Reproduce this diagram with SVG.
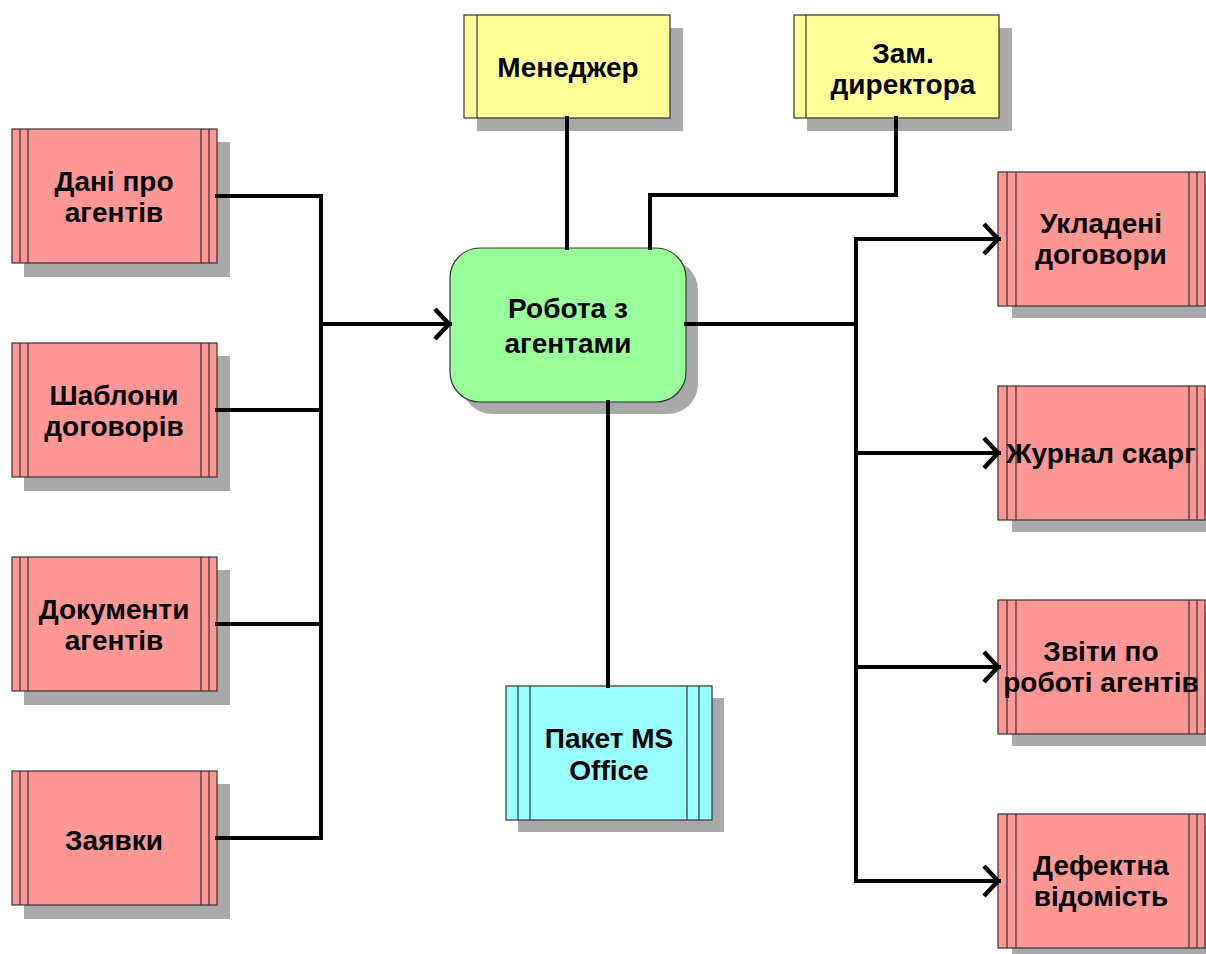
<svg xmlns="http://www.w3.org/2000/svg" width="1206" height="954" viewBox="0 0 1206 954">
<defs>
<style>
.sh{fill:#a9a9a9}
.pk{fill:#ff9797;stroke:#333;stroke-width:1.2}
.yl{fill:#ffff99;stroke:#333;stroke-width:1.2}
.gr{fill:#99ff99;stroke:#333;stroke-width:1.2}
.cy{fill:#99ffff;stroke:#333;stroke-width:1.2}
.in{stroke:#333;stroke-width:1.2;fill:none}
.t{font-family:"Liberation Sans",Arial,sans-serif;font-weight:bold;font-size:28px;fill:#000;text-anchor:middle}
.c{fill:none;stroke:#000;stroke-width:4;stroke-linejoin:miter;stroke-linecap:square}
</style>
<marker id="ar" markerUnits="userSpaceOnUse" viewBox="0 0 20 36" refX="18" refY="18" markerWidth="20" markerHeight="36" orient="auto">
<path d="M3,3 L17,18 L3,33" fill="none" stroke="#000" stroke-width="4.5"/>
</marker>
</defs>
<rect width="1206" height="954" fill="#fff"/>

<g id="n-dani">
<rect class="sh" x="24" y="142" width="206" height="135"/>
<rect class="pk" x="12" y="129" width="205" height="134"/>
<path class="in" d="M20,129V263M28,129V263M201,129V263M209,129V263"/>
<text class="t" x="114" y="191">Дані про</text>
<text class="t" x="114" y="222">агентів</text>
</g>
<g id="n-shablony">
<rect class="sh" x="24" y="356" width="206" height="135"/>
<rect class="pk" x="12" y="343" width="205" height="134"/>
<path class="in" d="M20,343V477M28,343V477M201,343V477M209,343V477"/>
<text class="t" x="114" y="405">Шаблони</text>
<text class="t" x="114" y="436">договорів</text>
</g>
<g id="n-dokumenty">
<rect class="sh" x="24" y="570" width="206" height="135"/>
<rect class="pk" x="12" y="557" width="205" height="134"/>
<path class="in" d="M20,557V691M28,557V691M201,557V691M209,557V691"/>
<text class="t" x="114" y="619">Документи</text>
<text class="t" x="114" y="650">агентів</text>
</g>
<g id="n-zaiavky">
<rect class="sh" x="24" y="784" width="206" height="135"/>
<rect class="pk" x="12" y="771" width="205" height="134"/>
<path class="in" d="M20,771V905M28,771V905M201,771V905M209,771V905"/>
<text class="t" x="114" y="850">Заявки</text>
</g>

<g id="n-menedzher">
<rect class="sh" x="477" y="28" width="206" height="103"/>
<rect class="yl" x="464" y="15" width="206" height="103"/>
<path class="in" d="M477,15V118"/>
<text class="t" x="568" y="77">Менеджер</text>
</g>
<g id="n-zam">
<rect class="sh" x="807" y="28" width="205" height="103"/>
<rect class="yl" x="794" y="15" width="205" height="103"/>
<path class="in" d="M806,15V118"/>
<text class="t" x="903" y="63">Зам.</text>
<text class="t" x="903" y="94">директора</text>
</g>

<g id="n-robota">
<rect class="sh" x="462" y="260" width="236" height="154" rx="30" ry="30"/>
<rect class="gr" x="450" y="248" width="236" height="154" rx="30" ry="30"/>
<text class="t" x="568" y="318">Робота з</text>
<text class="t" x="568" y="353">агентами</text>
</g>

<g id="n-office">
<rect class="sh" x="518" y="698" width="206" height="134"/>
<rect class="cy" x="506" y="686" width="206" height="134"/>
<path class="in" d="M518,686V820M530,686V820M687,686V820M699,686V820"/>
<text class="t" x="609" y="748">Пакет MS</text>
<text class="t" x="609" y="780">Office</text>
</g>

<g id="n-ukladeni">
<rect class="sh" x="1012" y="184" width="194" height="134"/>
<rect class="pk" x="998" y="172" width="207" height="134"/>
<path class="in" d="M1007,172V306M1016,172V306M1189,172V306M1197,172V306"/>
<text class="t" x="1101" y="233">Укладені</text>
<text class="t" x="1101" y="264">договори</text>
</g>
<g id="n-zhurnal">
<rect class="sh" x="1012" y="398" width="194" height="134"/>
<rect class="pk" x="998" y="386" width="207" height="134"/>
<path class="in" d="M1007,386V520M1016,386V520M1189,386V520M1197,386V520"/>
<text class="t" x="1101" y="463">Журнал скарг</text>
</g>
<g id="n-zvity">
<rect class="sh" x="1012" y="612" width="194" height="134"/>
<rect class="pk" x="998" y="600" width="207" height="134"/>
<path class="in" d="M1007,600V734M1016,600V734M1189,600V734M1197,600V734"/>
<text class="t" x="1101" y="661">Звіти по</text>
<text class="t" x="1101" y="692">роботі агентів</text>
</g>
<g id="n-defektna">
<rect class="sh" x="1012" y="826" width="194" height="134"/>
<rect class="pk" x="998" y="814" width="207" height="134"/>
<path class="in" d="M1007,814V948M1016,814V948M1189,814V948M1197,814V948"/>
<text class="t" x="1101" y="875">Дефектна</text>
<text class="t" x="1101" y="906">відомість</text>
</g>

<g id="connectors">
<path class="c" d="M217,196H321M217,410H321M217,624H321M217,838H321M321,196V838"/>
<path class="c" d="M321,324H450" marker-end="url(#ar)"/>
<path class="c" d="M686,324H856M856,239V881"/>
<path class="c" d="M856,239H999" marker-end="url(#ar)"/>
<path class="c" d="M856,453H999" marker-end="url(#ar)"/>
<path class="c" d="M856,667H999" marker-end="url(#ar)"/>
<path class="c" d="M856,881H999" marker-end="url(#ar)"/>
<path class="c" d="M567,118V248"/>
<path class="c" d="M896,118V195H650V248"/>
<path class="c" d="M608,402V686"/>
</g>
</svg>
